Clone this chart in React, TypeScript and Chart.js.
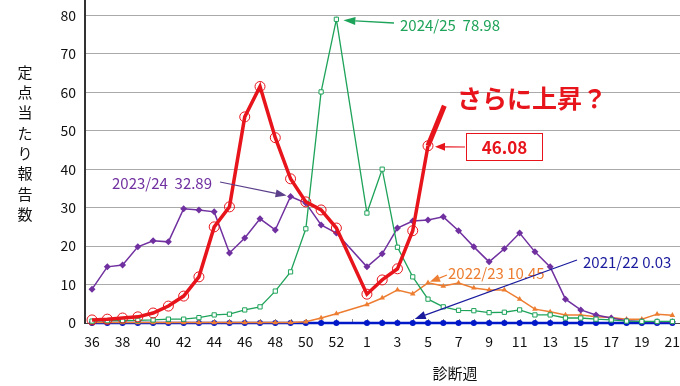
import React, { useEffect, useRef } from "react";
import { Chart, registerables } from "chart.js";

Chart.register(...registerables);

// x categories: weeks 36..53, 1..21 (week 53 has no data)
const weekLabels = [
  "36","37","38","39","40","41","42","43","44","45","46","47","48","49","50","51","52","53",
  "1","2","3","4","5","6","7","8","9","10","11","12","13","14","15","16","17","18","19","20","21",
];

const s2025_26 = [
  0.8, 1.0, 1.3, 1.6, 2.6, 4.4, 7.0, 12.0, 25.0, 30.2, 53.6, 61.5, 48.2, 37.5, 31.5, 29.4, 24.7, null,
  7.5, 11.2, 14.1, 24.0, 46.08,
];
const s2025_26_projection = [
  { x: 22, y: 46.08 },
  { x: 23.07, y: 56.5 },
];
const s2024_25 = [
  0.5, 0.6, 0.6, 0.7, 0.8, 1.0, 1.0, 1.4, 2.1, 2.3, 3.4, 4.2, 8.3, 13.3, 24.5, 60.1, 78.98, null,
  28.6, 40.0, 19.7, 12.0, 6.2, 4.2, 3.3, 3.2, 2.7, 2.8, 3.4, 2.1, 2.1, 1.3, 1.3, 1.0, 0.8, 0.5, 0.4, 0.4, 0.4,
];
const s2023_24 = [
  8.8, 14.6, 15.1, 19.8, 21.4, 21.1, 29.7, 29.4, 28.9, 18.2, 22.1, 27.1, 24.2, 32.89, 31.2, 25.5, 23.4, null,
  14.6, 18.0, 24.7, 26.5, 26.8, 27.6, 24.0, 19.8, 15.9, 19.3, 23.4, 18.5, 14.6, 6.2, 3.4, 2.1, 1.3, 0.6, 0.4, 0.3, 0.3,
];
const s2022_23 = [
  0.1, 0.1, 0.1, 0.1, 0.1, 0.1, 0.1, 0.1, 0.1, 0.1, 0.1, 0.1, 0.1, 0.1, 0.3, 1.3, 2.4, null,
  4.8, 6.5, 8.6, 7.6, 10.45, 9.6, 10.4, 9.1, 8.6, 8.6, 6.2, 3.6, 2.9, 2.1, 2.1, 1.6, 1.4, 1.0, 1.0, 2.3, 2.0,
];
const s2021_22 = [
  0.0, 0.0, 0.0, 0.0, 0.0, 0.0, 0.0, 0.0, 0.0, 0.0, 0.0, 0.0, 0.0, 0.0, 0.0, 0.0, 0.0, null,
  0.0, 0.0, 0.0, 0.03, 0.0, 0.0, 0.0, 0.0, 0.0, 0.0, 0.0, 0.0, 0.0, 0.0, 0.0, 0.0, 0.0, 0.0, 0.0, 0.0, 0.0,
];

const yTitleChars = ["定", "点", "当", "た", "り", "報", "告", "数"];
const xTitle = "診断週";

const RED = "#E8141C";
const GREEN = "#1EA35A";
const PURPLE = "#7030A0";
const ORANGE = "#ED7D31";
const BLUE = "#0018C8";
const FONT = "'Noto Sans CJK JP', 'Noto Sans', sans-serif";

const toXY = (arr: (number | null)[]) =>
  arr.map((v, i) => ({ x: i, y: v }));

function arrow(
  ctx: CanvasRenderingContext2D,
  x1: number, y1: number, x2: number, y2: number,
  color: string, width = 1.2, head = 11, headW = 4
) {
  const a = Math.atan2(y2 - y1, x2 - x1);
  const bx = x2 - head * Math.cos(a);
  const by = y2 - head * Math.sin(a);
  ctx.save();
  ctx.strokeStyle = color;
  ctx.fillStyle = color;
  ctx.lineWidth = width;
  ctx.beginPath();
  ctx.moveTo(x1, y1);
  ctx.lineTo(bx, by);
  ctx.stroke();
  ctx.beginPath();
  ctx.moveTo(x2, y2);
  ctx.lineTo(bx + headW * Math.sin(a), by - headW * Math.cos(a));
  ctx.lineTo(bx - headW * Math.sin(a), by + headW * Math.cos(a));
  ctx.closePath();
  ctx.fill();
  ctx.restore();
}

const annotationPlugin = {
  id: "annotations",
  beforeDatasetsDraw(chart: any) {
    const { ctx, scales } = chart;
    const xs = scales.x;
    const base = scales.y.getPixelForValue(0);
    // minor week ticks on the baseline
    ctx.save();
    ctx.strokeStyle = "#888";
    ctx.lineWidth = 1;
    for (let i = 0; i < weekLabels.length; i++) {
      const px = Math.round(xs.getPixelForValue(i)) + 0.5;
      ctx.beginPath();
      ctx.moveTo(px, base);
      ctx.lineTo(px, base - 4);
      ctx.stroke();
    }
    ctx.restore();
  },
  afterDraw(chart: any) {
    const { ctx, scales } = chart;
    const xs = scales.x;
    const ys = scales.y;
    const px = (i: number) => xs.getPixelForValue(i);
    const py = (v: number) => ys.getPixelForValue(v);

    ctx.save();
    // y axis title (stacked vertical)
    ctx.fillStyle = "#111";
    ctx.font = `15px ${FONT}`;
    ctx.textAlign = "center";
    ctx.textBaseline = "middle";
    yTitleChars.forEach((c, k) => ctx.fillText(c, 25, 72 + k * 20.3));
    // x axis title
    ctx.font = `15px ${FONT}`;
    ctx.fillText(xTitle, 455, 373);

    ctx.textAlign = "left";
    ctx.textBaseline = "middle";
    ctx.font = `15px ${FONT}`;

    // 2024/25 peak
    ctx.fillStyle = GREEN;
    ctx.fillText("2024/25  78.98", 400, 25);
    arrow(ctx, 394, 23, px(16) + 7, py(78.98) + 1, GREEN, 1.3, 12, 4);

    // 2023/24 peak
    ctx.fillStyle = PURPLE;
    ctx.fillText("2023/24  32.89", 112, 183);
    arrow(ctx, 220, 182, px(13) - 4, py(32.89) - 1, "#5B3F8A", 1.2, 11, 4);

    // 2022/23
    ctx.fillStyle = ORANGE;
    ctx.fillText("2022/23 10.45", 448, 273);
    arrow(ctx, 447, 275, px(22) + 2, py(10.45) - 1, ORANGE, 1.3, 10, 4);

    // 2021/22
    ctx.fillStyle = "#1A1A9E";
    ctx.fillText("2021/22 0.03", 583, 262);
    arrow(ctx, 577, 260, px(21) + 2, py(0.03) - 4, "#1A1A9E", 1.2, 11, 4);

    // 46.08 box
    ctx.strokeStyle = RED;
    ctx.lineWidth = 1;
    ctx.strokeRect(466.5, 133.5, 76, 27);
    ctx.fillStyle = RED;
    ctx.textAlign = "center";
    ctx.font = `bold 17px ${FONT}`;
    ctx.fillText("46.08", 504.5, 147.5);
    arrow(ctx, 465, 147, px(22) + 7, py(46.08) + 1, RED, 1.2, 10, 4);

    // さらに上昇？
    ctx.textAlign = "left";
    ctx.font = `bold 25px ${FONT}`;
    ctx.fillStyle = RED;
    ctx.fillText("さらに上昇？", 457, 98);
    ctx.restore();
  },
};

export default function App() {
  const canvasRef = useRef<HTMLCanvasElement | null>(null);

  useEffect(() => {
    document.body.style.margin = "0";
    const canvas = canvasRef.current;
    if (!canvas) return;
    const chart = new Chart(canvas, {
      type: "line",
      data: {
        datasets: [
          {
            label: "2025/26",
            data: toXY(s2025_26) as any,
            borderColor: RED,
            borderWidth: 3.5,
            pointStyle: "circle",
            pointRadius: 5,
            pointBorderWidth: 1,
            pointBorderColor: RED,
            pointBackgroundColor: "rgba(0,0,0,0)",
            spanGaps: true,
            tension: 0,
            clip: false,
          },
          {
            label: "2025/26 projection",
            data: s2025_26_projection as any,
            borderColor: RED,
            borderWidth: 5,
            pointRadius: 0,
            tension: 0,
            clip: false,
          },
          {
            label: "2024/25",
            data: toXY(s2024_25) as any,
            borderColor: GREEN,
            borderWidth: 1.3,
            pointStyle: "rect",
            pointRadius: 3,
            pointBorderWidth: 1,
            pointBorderColor: GREEN,
            pointBackgroundColor: "#ffffff",
            spanGaps: true,
            tension: 0,
            clip: false,
          },
          {
            label: "2023/24",
            data: toXY(s2023_24) as any,
            borderColor: PURPLE,
            borderWidth: 1.5,
            pointStyle: "rectRot",
            pointRadius: 3.5,
            pointBorderWidth: 0,
            pointBackgroundColor: PURPLE,
            spanGaps: true,
            tension: 0,
            clip: false,
          },
          {
            label: "2022/23",
            data: toXY(s2022_23) as any,
            borderColor: ORANGE,
            borderWidth: 1.5,
            pointStyle: "triangle",
            pointRadius: 3.2,
            pointBorderWidth: 0,
            pointBackgroundColor: ORANGE,
            spanGaps: true,
            tension: 0,
            clip: false,
          },
          {
            label: "2021/22",
            data: toXY(s2021_22) as any,
            borderColor: BLUE,
            borderWidth: 2.5,
            pointStyle: "circle",
            pointRadius: 3,
            pointBorderWidth: 0,
            pointBackgroundColor: BLUE,
            spanGaps: true,
            tension: 0,
            clip: false,
          },
        ],
      },
      options: {
        responsive: false,
        animation: false,
        devicePixelRatio: 1,
        layout: { padding: 0, autoPadding: false },
        plugins: {
          legend: { display: false },
          tooltip: { enabled: false },
        },
        scales: {
          x: {
            type: "linear",
            min: -0.46,
            max: 38.5,
            grid: { display: false, drawTicks: false },
            border: { display: true, color: "#444", width: 1 },
            afterBuildTicks: (scale: any) => {
              const t: any[] = [];
              for (let i = 0; i < weekLabels.length; i += 2) t.push({ value: i });
              scale.ticks = t;
            },
            afterFit: (scale: any) => {
              scale.height = 63;
              scale.paddingLeft = 0;
              scale.paddingRight = 0;
            },
            ticks: {
              autoSkip: false,
              maxRotation: 0,
              padding: 10,
              color: "#111",
              font: { family: FONT, size: 14 },
              callback: (v: any) => weekLabels[Math.round(Number(v))] ?? "",
            },
          },
          y: {
            type: "linear",
            min: 0,
            max: 84,
            afterBuildTicks: (scale: any) => {
              const t: any[] = [];
              for (let v = 0; v <= 80; v += 10) t.push({ value: v });
              scale.ticks = t;
            },
            afterFit: (scale: any) => {
              scale.width = 85;
              scale.paddingTop = 0;
              scale.paddingBottom = 0;
            },
            grid: { color: "#AAAAAA", lineWidth: 1, drawTicks: false },
            border: { color: "#333", width: 2 },
            ticks: {
              padding: 9,
              color: "#111",
              font: { family: FONT, size: 14 },
            },
          },
        },
      },
      plugins: [annotationPlugin],
    });
    return () => chart.destroy();
  }, []);

  return (
    <div style={{ position: "absolute", left: 0, top: 0, width: 680, height: 386, background: "#fff" }}>
      <canvas ref={canvasRef} width={680} height={386} />
    </div>
  );
}
